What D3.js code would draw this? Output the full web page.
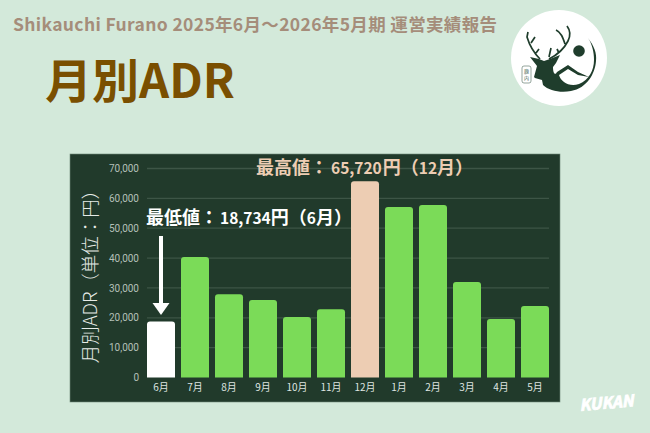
<!DOCTYPE html>
<html lang="ja">
<head>
<meta charset="utf-8" />
<title>月別ADR</title>
<style>
  html, body { margin: 0; padding: 0; background: #d3e9da; }
  svg { display: block; }
  text { font-family: "Noto Sans CJK JP", "Noto Sans", sans-serif; }
  .tick-label { font-family: Roboto, "Noto Sans CJK JP", sans-serif; }
</style>
</head>
<body>
<svg id="chart" width="650" height="433"></svg>
<script src="https://cdn.jsdelivr.net/npm/d3@7"></script>
<script>
  const months = ["6月", "7月", "8月", "9月", "10月", "11月", "12月", "1月", "2月", "3月", "4月", "5月"];
  const adr = [18734, 40360, 27860, 25960, 20260, 22840, 65720, 57100, 57770, 31980, 19590, 23950];
  const yTicks = [0, 10000, 20000, 30000, 40000, 50000, 60000, 70000];

  const svg = d3.select("#chart");

  // page titles
  svg.append("text").attr("x", 13).attr("y", 31)
    .attr("font-size", 17.5).attr("font-weight", 700).attr("fill", "#a58d7a")
    .attr("textLength", 484).attr("lengthAdjust", "spacing")
    .text("Shikauchi Furano 2025年6月～2026年5月期 運営実績報告");
  svg.append("text").attr("x", 45).attr("y", 98)
    .attr("font-size", 47).attr("font-weight", 700).attr("fill", "#7a4f00")
    .text("月別ADR");

  // dark panel behind the chart
  svg.append("rect").attr("x", 70).attr("y", 154).attr("width", 490).attr("height", 248)
    .attr("fill", "#213a2b").attr("stroke", "#6f8a78").attr("stroke-width", 0.6);

  const x = d3.scaleBand().domain(months).range([147, 549]).paddingInner(6 / 34);
  const y = d3.scaleLinear().domain([0, 70000]).range([377.5, 168.5]);

  // gridlines
  svg.append("g").selectAll("line").data(yTicks.slice(1)).enter().append("line")
    .attr("x1", 147).attr("x2", 549)
    .attr("y1", d => y(d)).attr("y2", d => y(d))
    .attr("stroke", "#3d5546").attr("stroke-width", 1.3);

  // axes, domain lines removed
  const yAxis = svg.append("g").attr("transform", "translate(147,0)")
    .call(d3.axisLeft(y).tickValues(yTicks).tickSize(0).tickPadding(8).tickFormat(d3.format(",")));
  const xAxis = svg.append("g").attr("transform", "translate(0,377.5)")
    .call(d3.axisBottom(x).tickSize(0).tickPadding(6));
  yAxis.select(".domain").remove();
  xAxis.select(".domain").remove();
  yAxis.selectAll("text").attr("class", "tick-label").attr("font-size", 10).attr("fill", "#b4c0b8");
  xAxis.selectAll("text").attr("font-size", 10).attr("fill", "#dfe5e1");

  // bars, rounded on top only
  const barPath = d => {
    const bx = x(d.month), w = x.bandwidth(), top = y(d.value), base = y(0), r = 3;
    return `M${bx},${base}V${top + r}Q${bx},${top} ${bx + r},${top}H${bx + w - r}Q${bx + w},${top} ${bx + w},${top + r}V${base}Z`;
  };
  const minValue = d3.min(adr), maxValue = d3.max(adr);
  svg.append("g").selectAll("path").data(months.map((m, i) => ({ month: m, value: adr[i] }))).enter().append("path")
    .attr("d", barPath)
    .attr("fill", d => d.value === minValue ? "#ffffff" : d.value === maxValue ? "#edcdb3" : "#7bdb58");

  // y axis title
  svg.append("text").attr("transform", "translate(97,272) rotate(-90)")
    .attr("text-anchor", "middle").attr("font-size", 18.5).attr("font-weight", 300).attr("fill", "#e6ebe7")
    .text("月別ADR（単位：円）");

  // callouts: digits are set a bit smaller than the kanji
  const callout = (px, py, color, parts) => {
    const t = svg.append("text").attr("x", px).attr("y", py)
      .attr("font-size", 18).attr("font-weight", 700).attr("fill", color);
    parts.forEach(p => t.append("tspan").attr("font-size", p[1]).attr("dx", p[2]).text(p[0]));
  };
  callout(256, 174, "#edcdb3", [["最高値：", 18, 0], ["65,720", 15.5, 3], ["円（", 18, 1], ["12", 15.5, 0], ["月）", 18, 0]]);
  callout(146, 224, "#ffffff", [["最低値：", 18, 0], ["18,734", 15.5, 2], ["円（", 18, 0], ["6", 15.5, 0], ["月）", 18, 0]]);

  // arrow down to the lowest bar
  const arrowX = x("6月") + x.bandwidth() / 2;
  svg.append("line").attr("x1", arrowX).attr("x2", arrowX).attr("y1", 236).attr("y2", 306)
    .attr("stroke", "#ffffff").attr("stroke-width", 4);
  svg.append("path").attr("d", `M${arrowX - 8.5},303H${arrowX + 8.5}L${arrowX},315Z`).attr("fill", "#ffffff");

  // logo
  const logo = svg.append("g").attr("transform", "translate(559,58)");
  logo.append("circle").attr("r", 48).attr("fill", "#ffffff");
  logo.append("circle").attr("cx", 20).attr("cy", -7).attr("r", 5.8).attr("fill", "#1f3d2c");
  // deer head, neck, ridge and the crescent around the mountain
  logo.append("path").attr("fill", "#1f3d2c")
    .attr("d", "M-25,19L-22,8L-29,-1L-20,1L-15,3L-9,1L1,-3L-3,5L-6,9C-6,15 -4,18 -2,14L9,7L19,14L30,19L19,17L9,11L0,17C2,24 10,29 20,26C30,22 35,12 35,2C35,-6 33,-14 29,-20C35,-12 38,-5 37,3C36,16 28,30 12,33C2,35 -10,33 -16,27L-17,22L-24,20Z");
  // antlers
  logo.append("path").attr("fill", "none").attr("stroke", "#1f3d2c").attr("stroke-width", 1.7)
    .attr("d", "M-19,1C-24,-4 -29,-11 -32,-21L-31,-26M-28,-15L-24,-21M-23,-5L-20,-9M-10,1C-2,-3 5,-9 9,-17C12,-23 11,-28 8,-32M6,-14C4,-20 2,-26 -3,-28M-10,-1L-8,-10M0,-5L-2,-9");
  logo.append("rect").attr("x", -37).attr("y", 8).attr("width", 9).attr("height", 17).attr("rx", 2)
    .attr("fill", "none").attr("stroke", "#4f6a5a").attr("stroke-width", 0.6);
  logo.append("text").attr("x", -32.5).attr("y", 15).attr("text-anchor", "middle")
    .attr("font-size", 5).attr("fill", "#4f6a5a").text("鹿");
  logo.append("text").attr("x", -32.5).attr("y", 22).attr("text-anchor", "middle")
    .attr("font-size", 5).attr("fill", "#4f6a5a").text("内");

  // watermark
  svg.append("text").attr("x", 580).attr("y", 411)
    .attr("transform", "rotate(-5 580 411)")
    .attr("font-family", "DejaVu Sans").attr("font-size", 16).attr("font-weight", 700).attr("font-style", "italic")
    .attr("fill", "#ffffff").attr("stroke", "#ffffff").attr("stroke-width", 0.8)
    .attr("textLength", 54).attr("lengthAdjust", "spacingAndGlyphs")
    .text("KUKAN");
</script>
</body>
</html>
